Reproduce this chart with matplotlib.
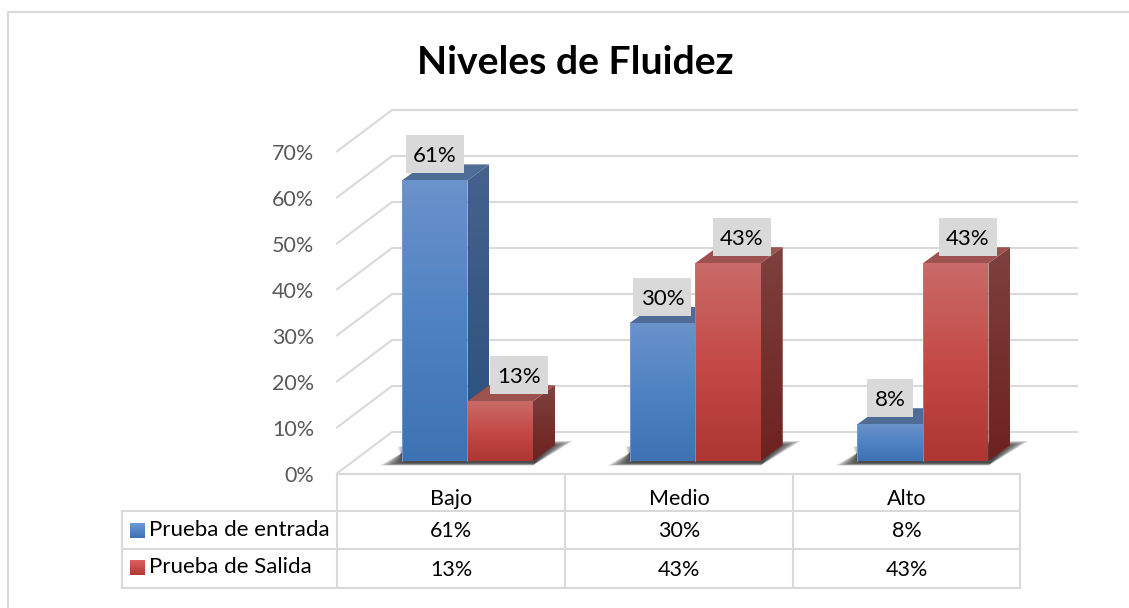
import numpy as np
import matplotlib
matplotlib.use("Agg")
import matplotlib.pyplot as plt
from matplotlib.colors import LinearSegmentedColormap
from matplotlib.patches import Polygon, Rectangle

plt.rcParams['font.family'] = ['Lato', 'DejaVu Sans']

# data
categories = ["Bajo", "Medio", "Alto"]
series_names = ["Prueba de entrada", "Prueba de Salida"]
entrada = [61, 30, 8]
salida = [13, 43, 43]
y_ticks = [0, 10, 20, 30, 40, 50, 60, 70]

W, H = 1129, 608
fig = plt.figure(figsize=(W / 100, H / 100), dpi=100, facecolor="white")

# overlay in pixels for frame and table
tb = fig.add_axes([0, 0, 1, 1], zorder=1)
tb.axis("off")

# plot axes: x in categories, y in percent
ax = fig.add_axes([353.6 / W, (H - 461) / H, 683.25 / W, 322 / H], zorder=2)
ax.patch.set_alpha(0)
ax.axis("off")

PX = 1 / 227.75   # one pixel in x units
PY = 70 / 322     # one pixel in y units
GRID = "#d9d9d9"
TXT = "#595959"


def fade(c1, c2, c3=None):
    cols = [c1, c2] if c3 is None else [c1, c2, c3]
    return LinearSegmentedColormap.from_list("f", cols)


BLUE = dict(front=fade("#3d72b4", "#4f82c2", "#6a92cb"),
            side=fade("#2c4f7c", "#44628c"), top="#4f6c96", edge="#6f9ad2")
RED = dict(front=fade("#ae3632", "#c44a47", "#c96b68"),
           side=fade("#6e2220", "#7e403e"), top="#9d5250", edge="#cf6f6c")


def grad_poly(pts, cmap, z):
    pts = np.array(pts)
    x0, x1 = pts[:, 0].min(), pts[:, 0].max()
    y0, y1 = pts[:, 1].min(), pts[:, 1].max()
    g = np.linspace(0, 1, 64).reshape(-1, 1)
    im = ax.imshow(g, cmap=cmap, origin="lower", aspect="auto", extent=(x0, x1, y0, y1),
                   zorder=z, vmin=0, vmax=1, clip_on=True)
    im.set_clip_path(Polygon(pts, transform=ax.transData))


def bar3d(x, w, v, st, z):
    dx, dy = 22 * PX, 16 * PY
    grad_poly([(x + w, 0), (x + w + dx, dy), (x + w + dx, v + dy), (x + w, v)], st["side"], z)
    ax.add_patch(Polygon([(x, v), (x + w, v), (x + w + dx, v + dy), (x + dx, v + dy)],
                         fc=st["top"], ec="none", zorder=z, clip_on=False))
    grad_poly([(x, 0), (x + w, 0), (x + w, v), (x, v)], st["front"], z + 0.1)
    ax.plot([x, x], [0, v], color=st["edge"], lw=0.7, zorder=z + 0.2, clip_on=False)


# walls and floor grid
for v in y_ticks:
    yf, yb = v - 2.7, v + 6.3
    ax.plot([-0.0729, 0.1686, 3.176], [yf, yb, yb], color=GRID, lw=1.5, zorder=1, clip_on=False)
    ax.annotate("%d%%" % v, (-0.174, yf), xytext=(0, -2.2), textcoords="offset points",
                ha="right", va="center", fontsize=15.5, color=TXT, annotation_clip=False)

bw = 65.5 * PX
for i in range(len(categories)):
    x0, x1 = i + 0.5 - bw, i + 0.5 + bw
    # floor shadow, stacked so it fades out
    for k in range(14):
        s = k * 1.9
        low = (-4.5 + k * 0.22) * PY
        high = (20 - k * 0.45) * PY
        ax.add_patch(Polygon([(x0 - (22 - s) * PX, low), (x1 + s * 0.1 * PX, low),
                              (x1 + (40 - s) * PX, high), (x0 + (20 - s) * PX, high)],
                             fc="#303030", ec="none", alpha=0.13, zorder=2, clip_on=False))
    bar3d(x0, bw, entrada[i], BLUE, 3)
    bar3d(x0 + bw, bw, salida[i], RED, 4)

ax.set_xlim(0, 3)
ax.set_ylim(0, 70)

# value labels on grey boxes
red_nudge = [19, 14, 12]
for i in range(len(categories)):
    blue_x = i + 0.5 - bw / 2
    red_x = i + 0.5 + bw / 2
    for x, v, nudge in ((blue_x, entrada[i], 0), (red_x, salida[i], red_nudge[i])):
        bx = x + nudge * PX
        by = v + 26 * PY
        box_w = (46 if v < 10 else 58) * PX
        ax.add_patch(Rectangle((bx - box_w / 2, by - 19 * PY), box_w, 38 * PY, fc="#d9d9d9", ec="none",
                               zorder=9, clip_on=False))
        ax.text(bx, by - 2 * PY, "%d%%" % v, ha="center", va="center", fontsize=16, color="black", zorder=10)

# title
fig.text(575 / W, 1 - 63 / H, "Niveles de Fluidez", ha="center", va="center",
         fontsize=28.2, fontweight="bold", color="black")

# outer frame, only top and left are in the picture
tb.plot([W, 8, 8], [12, 12, H], color=GRID, lw=1.5)

# data table
col_x = [337, 565, 793, 1020]
row_y = [474, 511, 549, 588]
for x in col_x:
    tb.plot([x, x], [row_y[0], row_y[-1]], color=GRID, lw=1.5)
tb.plot([122, 122], [row_y[1], row_y[-1]], color=GRID, lw=1.5)
tb.plot([337, 1020], [row_y[0], row_y[0]], color=GRID, lw=1.5)
for y in row_y[1:]:
    tb.plot([122, 1020], [y, y], color=GRID, lw=1.5)

for j, name in enumerate(categories):
    cx = (col_x[j] + col_x[j + 1]) / 2
    tb.text(cx, 499, name, ha="center", va="center", fontsize=15.5, color="black")
    tb.text(cx, 531, "%d%%" % entrada[j], ha="center", va="center", fontsize=15.5, color="black")
    tb.text(cx, 569.5, "%d%%" % salida[j], ha="center", va="center", fontsize=15.5, color="black")

key_cmaps = [fade("#6a9ad6", "#3d72b4"), fade("#d9605c", "#b23a36")]
for name, y, cmap in zip(series_names, [530.5, 568], key_cmaps):
    g = np.linspace(0, 1, 16).reshape(-1, 1)
    tb.imshow(g, cmap=cmap, aspect="auto", extent=(130, 145, y + 7.5, y - 7.5), vmin=0, vmax=1)
    tb.text(149, y - 1, name, ha="left", va="center", fontsize=16, color="black")

tb.set_xlim(0, W)
tb.set_ylim(H, 0)

fig.savefig("out.png", dpi=100)
